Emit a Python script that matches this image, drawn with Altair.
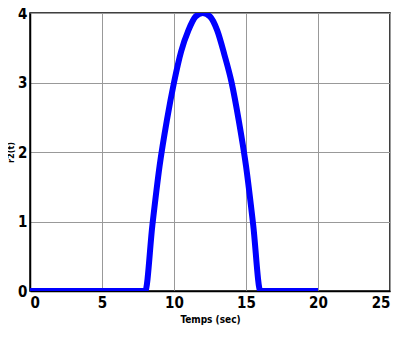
import altair as alt
import pandas as pd

t = [0, 8, 8.5, 9, 9.5, 10, 10.5, 11, 11.5, 12, 12.5, 13, 13.5, 14, 14.5, 15, 15.5, 16, 20]
r2 = [0, 0, 0.95, 1.8, 2.45, 3.0, 3.45, 3.75, 3.95, 4.0, 3.95, 3.75, 3.4, 3.0, 2.45, 1.8, 0.95, 0, 0]

x_ticks = [0, 5, 10, 15, 20, 25]
y_ticks = [0, 1, 2, 3, 4]

df = pd.DataFrame({"t": t, "r2": r2})

FONT = "DejaVu Sans Condensed"

chart = alt.Chart(df).mark_line(color="#0000FF", strokeWidth=6, clip=True, interpolate="monotone").encode(
    x=alt.X("t:Q", scale=alt.Scale(domain=[0, 25], nice=False),
            axis=alt.Axis(values=x_ticks, title="Temps (sec)", grid=True,
                          labelFontSize=15, labelFont=FONT, labelFontWeight="bold",
                          titleFontSize=10, titleFont=FONT, titleFontWeight="bold",
                          labelPadding=4, titlePadding=4, ticks=False,
                          domainColor="black", domainWidth=1.5, labelColor="black", titleColor="black")),
    y=alt.Y("r2:Q", scale=alt.Scale(domain=[0, 4], nice=False),
            axis=alt.Axis(values=y_ticks, title="r2(t)", grid=True, format="d",
                          labelFontSize=15, labelFont=FONT, labelFontWeight="bold",
                          titleFontSize=9, titleFont=FONT, titleFontWeight="bold",
                          labelPadding=3, titlePadding=2, ticks=False,
                          domainColor="black", domainWidth=1.5, labelColor="black", titleColor="black")),
).properties(
    width=360, height=278,
    autosize=alt.AutoSizeParams(type="none"),
    padding={"left": 22, "top": 5, "right": 2, "bottom": 35},
).configure_view(
    stroke="black", strokeWidth=1.5
).configure_axis(
    gridColor="#999999", gridWidth=1, gridOpacity=1
)

chart.save("out.html", embed_options={"renderer": "svg", "actions": False})
